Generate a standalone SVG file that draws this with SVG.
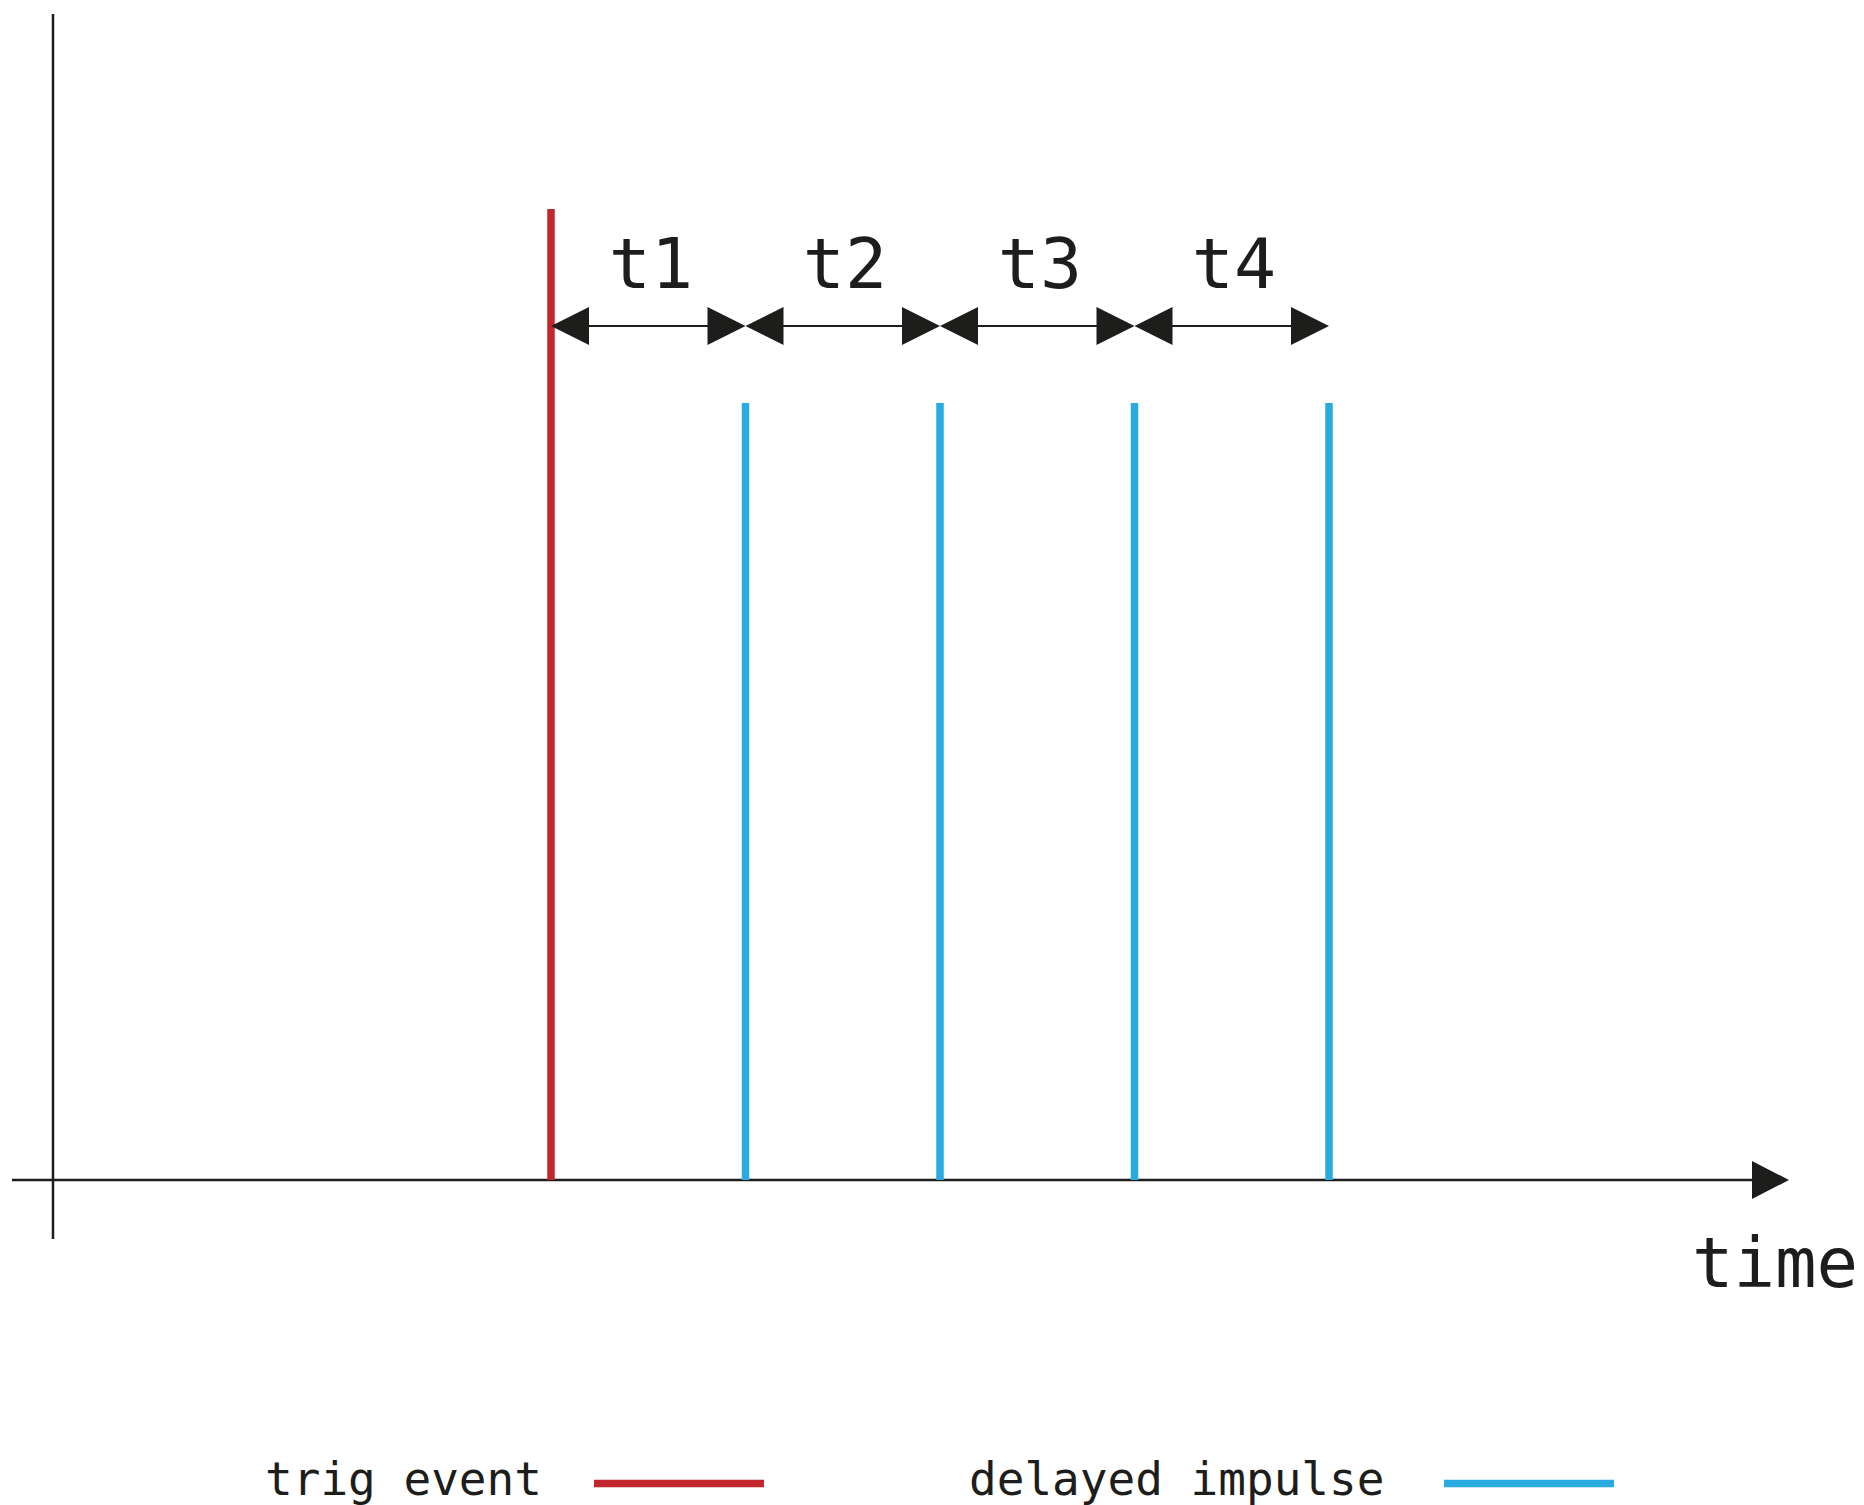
<svg xmlns="http://www.w3.org/2000/svg" width="1864" height="1505" viewBox="0 0 1864 1505">
<style>
.axis{stroke:#1d1d1b;stroke-width:2.5;fill:none}
.dim{stroke:#1d1d1b;stroke-width:2.2;fill:none}
.head{fill:#1d1d1b}
.red{stroke:#c1272d;stroke-width:7.5;fill:none}
.blue{stroke:#29abe2;stroke-width:7.5;fill:none}
.lbl{font-family:"DejaVu Sans Mono","Liberation Mono",monospace;fill:#1d1d1b}
</style>
<rect width="1864" height="1505" fill="#ffffff"/>
<g id="axes">
<line class="axis" x1="53" y1="14" x2="53" y2="1239"/>
<line class="axis" x1="12" y1="1180" x2="1754" y2="1180"/>
<polygon class="head" points="1752,1161 1789,1180 1752,1199"/>
<text class="lbl" x="1692" y="1287" font-size="69">time</text>
</g>
<g id="trig-event"><line class="red" x1="551" y1="209" x2="551" y2="1180"/></g>
<g id="impulse-1"><line class="blue" x1="745.5" y1="403" x2="745.5" y2="1180"/></g>
<g id="impulse-2"><line class="blue" x1="940" y1="403" x2="940" y2="1180"/></g>
<g id="impulse-3"><line class="blue" x1="1134.5" y1="403" x2="1134.5" y2="1180"/></g>
<g id="impulse-4"><line class="blue" x1="1329" y1="403" x2="1329" y2="1180"/></g>
<g id="connectors">
<g id="dim-t1">
<line class="dim" x1="580" y1="326" x2="716" y2="326"/>
<polygon class="head" points="551,326 589,307 589,345"/>
<polygon class="head" points="745.5,326 707.5,307 707.5,345"/>
</g>
<g id="dim-t2">
<line class="dim" x1="774" y1="326" x2="911" y2="326"/>
<polygon class="head" points="745.5,326 783.5,307 783.5,345"/>
<polygon class="head" points="940,326 902,307 902,345"/>
</g>
<g id="dim-t3">
<line class="dim" x1="969" y1="326" x2="1105" y2="326"/>
<polygon class="head" points="940,326 978,307 978,345"/>
<polygon class="head" points="1134.5,326 1096.5,307 1096.5,345"/>
</g>
<g id="dim-t4">
<line class="dim" x1="1163" y1="326" x2="1300" y2="326"/>
<polygon class="head" points="1134.5,326 1172.5,307 1172.5,345"/>
<polygon class="head" points="1329,326 1291,307 1291,345"/>
</g>
</g>
<g id="labels">
<text class="lbl" x="651" y="288" font-size="70" text-anchor="middle">t1</text>
<text class="lbl" x="845" y="288" font-size="70" text-anchor="middle">t2</text>
<text class="lbl" x="1040" y="288" font-size="70" text-anchor="middle">t3</text>
<text class="lbl" x="1234" y="288" font-size="70" text-anchor="middle">t4</text>
</g>
<g id="legend">
<text class="lbl" x="265" y="1495" font-size="46">trig event</text>
<line class="red" x1="594" y1="1483.5" x2="764" y2="1483.5"/>
<text class="lbl" x="969" y="1495" font-size="46">delayed impulse</text>
<line class="blue" x1="1444" y1="1483.5" x2="1614" y2="1483.5"/>
</g>
</svg>
